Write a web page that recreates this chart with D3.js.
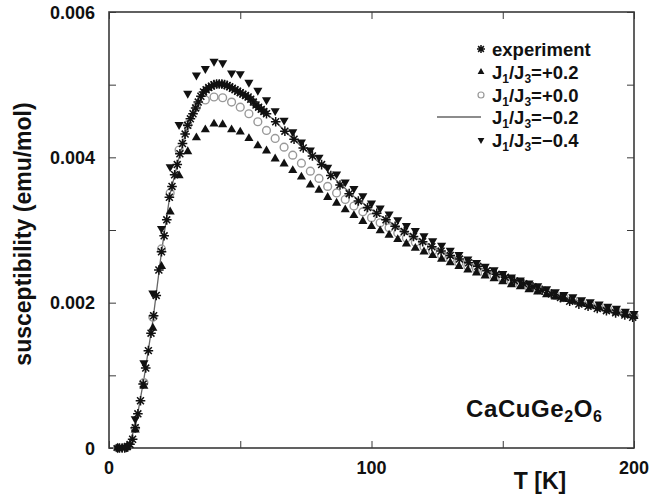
<!DOCTYPE html>
<html>
<head>
<meta charset="utf-8">
<script src="https://cdn.jsdelivr.net/npm/d3@7"></script>
<style>
  body { margin: 0; background: #fff; }
  text { font-family: "Liberation Sans", Arial, sans-serif; font-weight: bold; fill: #111; }
</style>
</head>
<body>
<script>
// experimental points (T in K, chi in emu/mol)
const expT = [4, 5, 6, 7, 8, 9, 10, 11, 12, 13, 14, 15, 16, 17, 18, 19, 20, 21, 22, 23, 24, 25, 26, 27, 28, 29, 30,
  31, 32, 33, 34, 35, 36, 37, 38, 39, 40, 41, 42, 43, 44, 45, 46, 47, 48, 49, 50, 51, 52, 53, 54, 55, 56, 57, 58, 59, 60,
  63.5, 67, 70.5, 74, 77.5, 81, 84.5, 88, 91.5, 95, 98.5, 102, 105.5, 109, 112.5, 116, 119.5, 123, 126.5, 130,
  133.5, 137, 140.5, 144, 147.5, 151, 154.5, 158, 161.5, 165, 168.5, 172, 175.5, 179, 182.5, 186, 189.5, 193, 196.5, 199.5];
const expChi = [0, 0, 0, 0.00002, 0.00005, 0.00012, 0.00028, 0.00047, 0.00065, 0.00088, 0.0011, 0.00134, 0.00158, 0.00182, 0.0021, 0.00245, 0.0027, 0.00292, 0.00314, 0.00345, 0.0036, 0.00376, 0.0039, 0.00405, 0.00419, 0.00432, 0.00444,
  0.00453, 0.0046, 0.00468, 0.00476, 0.00484, 0.0049, 0.00493, 0.00496, 0.00498, 0.005, 0.00501, 0.00501, 0.00501, 0.005, 0.00499, 0.00497, 0.00495, 0.00493, 0.00491, 0.00489, 0.00487, 0.00485, 0.00483, 0.0048, 0.00476, 0.00472, 0.00469, 0.00466, 0.00463, 0.0046,
  0.00449, 0.00436, 0.00425, 0.00413, 0.00402, 0.0039, 0.00375, 0.00362, 0.0035, 0.0034, 0.00331, 0.00323, 0.00314, 0.00305, 0.00298, 0.00291, 0.00284, 0.00277, 0.00271, 0.00265,
  0.0026, 0.00255, 0.0025, 0.00244, 0.00239, 0.00235, 0.0023, 0.00226, 0.00222, 0.00217, 0.00212, 0.00207, 0.00202, 0.00198, 0.00195, 0.00192, 0.00189, 0.00186, 0.00183, 0.0018];

// theory grid
const thT = [3.3, 6.7, 10, 13.3, 16.7, 20, 23.3, 26.7, 30, 33.3, 36.7, 40, 43.3, 46.7, 50, 53.3, 56.7, 60, 63.3, 66.7,
  70, 73.3, 76.7, 80, 83.3, 86.7, 90, 93.3, 96.7, 100, 103.3, 106.7, 110, 113.3, 116.7, 120, 123.3, 126.7, 130, 133.3,
  136.7, 140, 143.3, 146.7, 150, 153.3, 156.7, 160, 163.3, 166.7, 170, 173.3, 176.7, 180, 183.3, 186.7, 190, 193.3, 196.7, 200];

const chiP02 = [0, 0.00001, 0.00025, 0.00085, 0.00165, 0.0025, 0.00325, 0.00375, 0.00408, 0.00427, 0.00438, 0.00446, 0.00445, 0.00438, 0.00435, 0.00426, 0.00416, 0.00409, 0.00398, 0.00391,
  0.00382, 0.00373, 0.00362, 0.00355, 0.00345, 0.00337, 0.00328, 0.0032, 0.00312, 0.00305, 0.00299, 0.00293, 0.00287, 0.00281, 0.00275, 0.0027, 0.00265, 0.0026, 0.00255, 0.0025,
  0.00245, 0.00241, 0.00237, 0.00233, 0.00229, 0.00225, 0.00222, 0.00218, 0.00215, 0.00211, 0.00208, 0.00205, 0.00202, 0.00199, 0.00196, 0.00193, 0.0019, 0.00187, 0.00184, 0.00181];

const chiP00 = [0, 0.00001, 0.00027, 0.0009, 0.0018, 0.00274, 0.00351, 0.0041, 0.00445, 0.00469, 0.00479, 0.00483, 0.00482, 0.00476, 0.00469, 0.0046, 0.00449, 0.00437, 0.00426, 0.00414,
  0.00403, 0.00392, 0.00381, 0.00371, 0.0036, 0.00351, 0.00342, 0.00333, 0.00325, 0.00317, 0.0031, 0.00303, 0.00296, 0.00289, 0.00283, 0.00277, 0.00271, 0.00265, 0.0026, 0.00255,
  0.0025, 0.00246, 0.00241, 0.00237, 0.00233, 0.00229, 0.00225, 0.00221, 0.00218, 0.00214, 0.0021, 0.00207, 0.00204, 0.002, 0.00197, 0.00194, 0.00191, 0.00188, 0.00185, 0.00182];

const chiM02 = [0, 0, 0.00028, 0.00095, 0.00175, 0.0027, 0.0035, 0.004, 0.00444, 0.0047, 0.00492, 0.005, 0.00501, 0.00496, 0.00489, 0.00482, 0.0047, 0.0046, 0.0045, 0.00437,
  0.00426, 0.00415, 0.00404, 0.00393, 0.00381, 0.00368, 0.00357, 0.00346, 0.00337, 0.00328, 0.0032, 0.00312, 0.00304, 0.00297, 0.0029, 0.00283, 0.00277, 0.00271, 0.00265, 0.0026,
  0.00255, 0.0025, 0.00245, 0.0024, 0.00236, 0.00232, 0.00228, 0.00224, 0.0022, 0.00216, 0.00212, 0.00208, 0.00205, 0.00201, 0.00198, 0.00195, 0.00192, 0.00189, 0.00186, 0.0018];

const chiM04 = [0, 0.00001, 0.0004, 0.00117, 0.00213, 0.00302, 0.00387, 0.00445, 0.00488, 0.00513, 0.00522, 0.00532, 0.0053, 0.00516, 0.00515, 0.00503, 0.00492, 0.00479, 0.00464, 0.00451,
  0.00435, 0.00421, 0.0041, 0.004, 0.00386, 0.00377, 0.00366, 0.00357, 0.00347, 0.00337, 0.0033, 0.00322, 0.00314, 0.00306, 0.00299, 0.00292, 0.00285, 0.00279, 0.00272, 0.00266,
  0.0026, 0.00255, 0.0025, 0.00245, 0.0024, 0.00235, 0.00231, 0.00227, 0.00223, 0.00219, 0.00215, 0.00211, 0.00208, 0.00204, 0.00201, 0.00198, 0.00195, 0.00192, 0.00188, 0.00185];

const xTicks = [0, 100, 200];
const yTicks = [0, 0.002, 0.004, 0.006];
const legendLabels = ["experiment", "+0.2", "+0.0", "\u22120.2", "\u22120.4"];

const width = 649, height = 495;
const mLeft = 109, mRight = 634, mTop = 12, mBottom = 448;

const svg = d3.select("body").append("svg")
  .attr("width", width).attr("height", height);

const x = d3.scaleLinear().domain([0, 200]).range([mLeft, mRight]);
const y = d3.scaleLinear().domain([0, 0.006]).range([mBottom, mTop]);

const axisColor = "#3a3a3a";

// frame + inward ticks on all four sides
const gx = svg.append("g").attr("transform", `translate(0,${mBottom})`)
  .call(d3.axisTop(x).tickValues([0, 50, 100, 150, 200]).tickSize(7).tickFormat(""));
const gx2 = svg.append("g").attr("transform", `translate(0,${mTop})`)
  .call(d3.axisBottom(x).tickValues([0, 50, 100, 150, 200]).tickSize(7).tickFormat(""));
const gy = svg.append("g").attr("transform", `translate(${mLeft},0)`)
  .call(d3.axisRight(y).ticks(6).tickSize(7).tickFormat(""));
const gy2 = svg.append("g").attr("transform", `translate(${mRight},0)`)
  .call(d3.axisLeft(y).ticks(6).tickSize(7).tickFormat(""));
[gx, gx2, gy, gy2].forEach(g => {
  g.selectAll("path.domain").remove();
  g.selectAll("line").attr("stroke", axisColor).attr("stroke-width", 1);
});
svg.append("rect").attr("x", mLeft).attr("y", mTop)
  .attr("width", mRight - mLeft).attr("height", mBottom - mTop)
  .attr("fill", "none").attr("stroke", axisColor).attr("stroke-width", 1.6);

// tick labels
svg.append("g").selectAll("text").data(xTicks).join("text")
  .attr("x", d => x(d)).attr("y", 474)
  .attr("text-anchor", "middle").attr("font-size", 18)
  .text(d => d);
svg.append("g").selectAll("text").data(yTicks).join("text")
  .attr("x", 95).attr("y", d => y(d) + 6.5)
  .attr("text-anchor", "end").attr("font-size", 18)
  .text(d => d === 0 ? "0" : d.toFixed(3));

// axis titles
svg.append("text").attr("x", 540).attr("y", 489)
  .attr("text-anchor", "middle").attr("font-size", 23).text("T [K]");
svg.append("text")
  .attr("transform", "translate(31,234) rotate(-90)")
  .attr("text-anchor", "middle").attr("font-size", 23)
  .text("susceptibility (emu/mol)");

// compound label
const comp = svg.append("text").attr("x", 466).attr("y", 417)
  .attr("font-size", 24).attr("letter-spacing", 0.6);
comp.append("tspan").text("CaCuGe");
comp.append("tspan").attr("font-size", 16).attr("dy", 5).text("2");
comp.append("tspan").attr("dy", -5).text("O");
comp.append("tspan").attr("font-size", 16).attr("dy", 5).text("6");

// symbols
function asterisk(g, r) {
  const d = r * 0.72;
  g.append("path")
    .attr("d", `M${-r},0L${r},0M0,${-r}L0,${r}M${-d},${-d}L${d},${d}M${-d},${d}L${d},${-d}`)
    .attr("stroke", "#111").attr("stroke-width", 1.5).attr("fill", "none");
}
const triUp = d3.symbol(d3.symbolTriangle, 36)();

const plot = svg.append("g");

// J1/J3 = -0.2 line
const line = d3.line().x((d, i) => x(thT[i])).y(d => y(d));
plot.append("path").datum(chiM02).attr("d", line)
  .attr("fill", "none").attr("stroke", "#666").attr("stroke-width", 1.3);

// J1/J3 = +0.0 circles
plot.append("g").selectAll("circle").data(chiP00).join("circle")
  .attr("cx", (d, i) => x(thT[i])).attr("cy", d => y(d)).attr("r", 3.9)
  .attr("fill", "none").attr("stroke", "#999").attr("stroke-width", 1.4);

// J1/J3 = +0.2 triangles up
plot.append("g").selectAll("path").data(chiP02).join("path")
  .attr("d", triUp)
  .attr("transform", (d, i) => `translate(${x(thT[i])},${y(d)})`)
  .attr("fill", "#111");

// J1/J3 = -0.4 triangles down
plot.append("g").selectAll("path").data(chiM04).join("path")
  .attr("d", triUp)
  .attr("transform", (d, i) => `translate(${x(thT[i])},${y(d)}) rotate(180)`)
  .attr("fill", "#111");

// experiment asterisks
plot.append("g").selectAll("g").data(expChi).join("g")
  .attr("transform", (d, i) => `translate(${x(expT[i])},${y(d)})`)
  .each(function() { asterisk(d3.select(this), 4.8); });

// legend
const legY = [49, 72, 95, 117, 140];
const leg = svg.append("g");
legendLabels.forEach((lab, i) => {
  const t = leg.append("text").attr("x", 492).attr("y", legY[i] + 6.5).attr("font-size", 18.5);
  if (i === 0) {
    t.text(lab);
  } else {
    t.append("tspan").text("J");
    t.append("tspan").attr("font-size", 12).attr("dy", 4).text("1");
    t.append("tspan").attr("dy", -4).text("/J");
    t.append("tspan").attr("font-size", 12).attr("dy", 4).text("3");
    t.append("tspan").attr("dy", -4).text("=" + lab);
  }
});
asterisk(leg.append("g").attr("transform", `translate(481,${legY[0]})`), 4);
leg.append("path").attr("d", d3.symbol(d3.symbolTriangle, 20)())
  .attr("transform", `translate(481,${legY[1]})`).attr("fill", "#111");
leg.append("circle").attr("cx", 481).attr("cy", legY[2]).attr("r", 3)
  .attr("fill", "none").attr("stroke", "#999").attr("stroke-width", 1.2);
leg.append("line").attr("x1", 437).attr("x2", 481).attr("y1", legY[3]).attr("y2", legY[3])
  .attr("stroke", "#666").attr("stroke-width", 1.3);
leg.append("path").attr("d", d3.symbol(d3.symbolTriangle, 20)())
  .attr("transform", `translate(481,${legY[4]}) rotate(180)`).attr("fill", "#111");
</script>
</body>
</html>
